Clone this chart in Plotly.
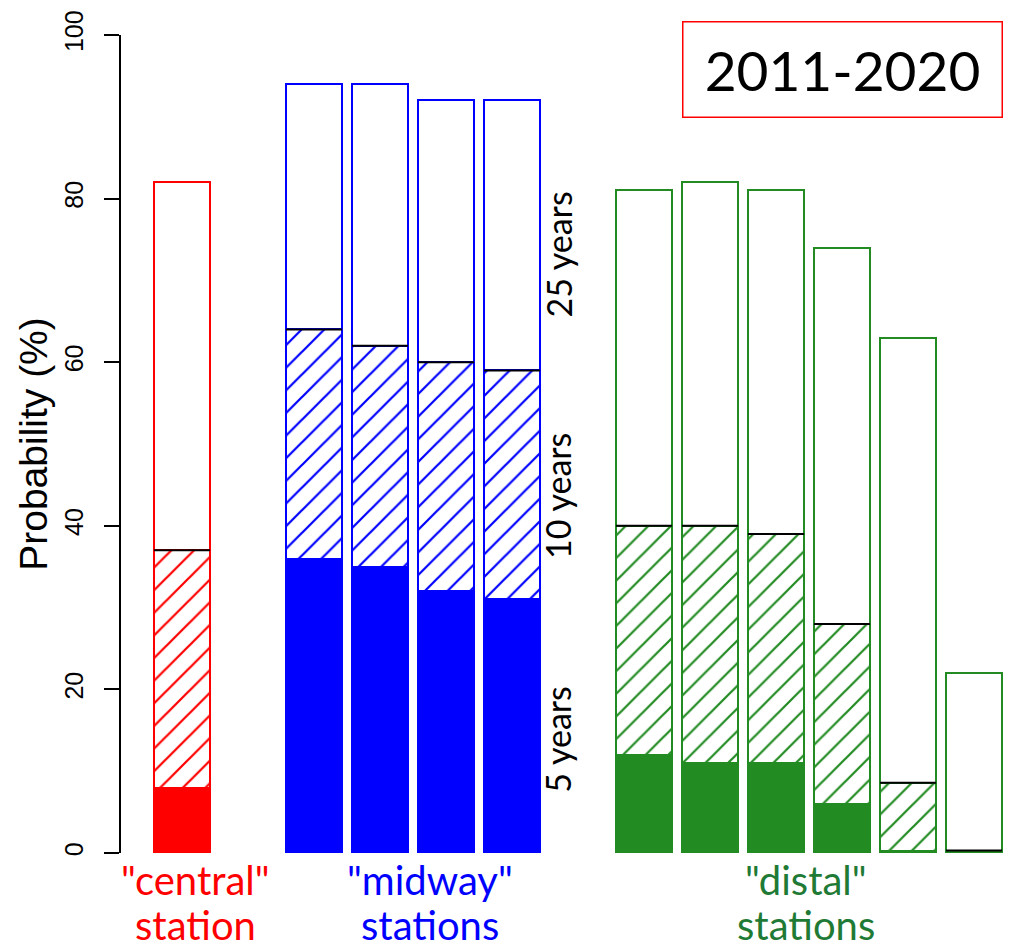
import plotly.graph_objects as go

# Station positions along the x axis (gaps separate the three groups)
central_x = [0]
midway_x = [2, 3, 4, 5]
distal_x = [7, 8, 9, 10, 11, 12]

# Probability (%) of exceedance within 5, 10 and 25 years
central_5 = [8]
central_10 = [37]
central_25 = [82]

midway_5 = [36, 35, 32, 31]
midway_10 = [64, 62, 60, 59]
midway_25 = [94, 94, 92, 92]

distal_5 = [12, 11, 11, 6, 0.2, 0]
distal_10 = [40, 40, 39, 28, 8.6, 0.3]
distal_25 = [81, 82, 81, 74, 63, 22]

y_ticks = [0, 20, 40, 60, 80, 100]

RED = "#FF0000"
BLUE = "#0000FF"
GREEN = "#228B22"
GREEN_TEXT = "#1F7A35"

BAR_W = 0.85
LABEL_FONT = "Lato"
AXIS_FONT = "Liberation Sans"

groups = [
    (central_x, central_5, central_10, central_25, RED),
    (midway_x, midway_5, midway_10, midway_25, BLUE),
    (distal_x, distal_5, distal_10, distal_25, GREEN),
]

fig = go.Figure()

for xs, v5, v10, v25, col in groups:
    # 25-year probability: open bar
    fig.add_trace(go.Bar(
        x=xs, y=v25, width=BAR_W,
        marker=dict(color="white", line=dict(color=col, width=2)),
        hoverinfo="y", showlegend=False,
    ))
    # 10-year probability: hatched bar
    fig.add_trace(go.Bar(
        x=xs, y=v10, width=BAR_W,
        marker=dict(
            color="white",
            line=dict(color=col, width=2),
            pattern=dict(shape="/", fgcolor=col, bgcolor="white",
                         fgopacity=1, size=16, solidity=0.14,
                         fillmode="replace"),
        ),
        hoverinfo="y", showlegend=False,
    ))
    # 5-year probability: solid bar
    fig.add_trace(go.Bar(
        x=xs, y=v5, width=BAR_W,
        marker=dict(color=col, line=dict(color=col, width=2)),
        hoverinfo="y", showlegend=False,
    ))
    # black rule across the top of each hatched bar
    lx, ly = [], []
    for x, v in zip(xs, v10):
        lx += [x - BAR_W / 2, x + BAR_W / 2, None]
        ly += [v, v, None]
    fig.add_trace(go.Scatter(
        x=lx, y=ly, mode="lines",
        line=dict(color="black", width=2),
        hoverinfo="skip", showlegend=False,
    ))

annotations = []

# horizon labels beside the midway group
for txt, yv in [("5 years", 13.8), ("10 years", 43.6), ("25 years", 73.1)]:
    annotations.append(dict(
        x=5.69, y=yv, xref="x", yref="y", text=txt, textangle=-90,
        showarrow=False, font=dict(family=LABEL_FONT, size=34, color="black"),
    ))

# group names below the bars, two lines each
for line1, line2, xv, col in [
    ('"central"', "station", 0.2, RED),
    ('"midway"', "stations", 3.75, BLUE),
    ('"distal"', "stations", 9.45, GREEN_TEXT),
]:
    for txt, shift in [(line1, -27), (line2, -72)]:
        annotations.append(dict(
            x=xv, y=0, xref="x", yref="y", yanchor="middle", yshift=shift,
            text=txt, showarrow=False,
            font=dict(family=LABEL_FONT, size=40, color=col),
        ))

# period box
annotations.append(dict(
    x=10.01, y=95.8, xref="x", yref="y", text="2011-2020",
    showarrow=False, font=dict(family=LABEL_FONT, size=55, color="black"),
    bordercolor=RED, borderwidth=1.5, borderpad=0, width=318, height=94,
    bgcolor="white",
))

fig.update_layout(
    width=1011, height=951,
    margin=dict(l=121, r=0, t=35, b=98),
    paper_bgcolor="white", plot_bgcolor="white",
    barmode="overlay",
    bargap=0,
    annotations=annotations,
    xaxis=dict(
        range=[-0.924, 12.56], visible=False, fixedrange=True,
    ),
    yaxis=dict(
        range=[0, 100], tickvals=y_ticks, ticktext=[str(v) for v in y_ticks],
        showline=True, linecolor="black", linewidth=2,
        ticks="outside", ticklen=15, tickwidth=2, tickcolor="black",
        tickangle=-90, ticklabelstandoff=11,
        tickfont=dict(family=AXIS_FONT, size=25, color="black"),
        showgrid=False, zeroline=False,
        title=dict(text="Probability (%)", standoff=0,
                   font=dict(family=AXIS_FONT, size=39, color="black")),
        automargin=False,
    ),
)

fig.write_html("out.html")
